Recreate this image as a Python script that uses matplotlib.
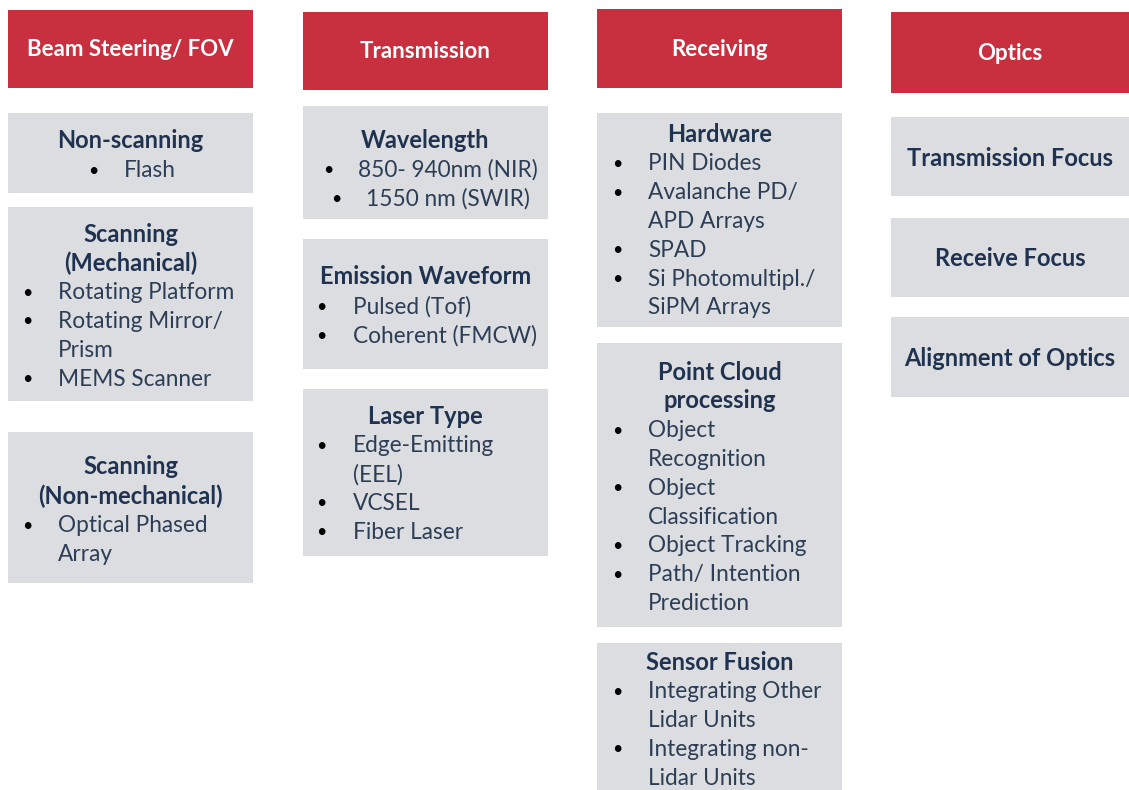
import matplotlib
matplotlib.use("Agg")
import matplotlib.pyplot as plt
from matplotlib.patches import Rectangle

plt.rcParams['font.family'] = ['Lato', 'DejaVu Sans']

RED = "#c8303f"
GRAY = "#dcdde0"
NAVY = "#1f3350"
ITEM = "#2c3e56"

# column headers
headers = ["Beam Steering/ FOV", "Transmission", "Receiving", "Optics"]

# each box: title lines, bullet items (an item may wrap onto several lines)
beam_boxes = [
    (["Non-scanning"], [["Flash"]]),
    (["Scanning", "(Mechanical)"], [["Rotating Platform"], ["Rotating Mirror/", "Prism"], ["MEMS Scanner"]]),
    (["Scanning", "(Non-mechanical)"], [["Optical Phased", "Array"]]),
]
transmission_boxes = [
    (["Wavelength"], [["850- 940nm (NIR)"], ["1550 nm (SWIR)"]]),
    (["Emission Waveform"], [["Pulsed (Tof)"], ["Coherent (FMCW)"]]),
    (["Laser Type"], [["Edge-Emitting", "(EEL)"], ["VCSEL"], ["Fiber Laser"]]),
]
receiving_boxes = [
    (["Hardware"], [["PIN Diodes"], ["Avalanche PD/", "APD Arrays"], ["SPAD"], ["Si Photomultipl./", "SiPM Arrays"]]),
    (["Point Cloud", "processing"], [["Object", "Recognition"], ["Object", "Classification"],
                                     ["Object Tracking"], ["Path/ Intention", "Prediction"]]),
    (["Sensor Fusion"], [["Integrating Other", "Lidar Units"], ["Integrating non-", "Lidar Units"]]),
]
optics_boxes = [
    (["Transmission Focus"], []),
    (["Receive Focus"], []),
    (["Alignment of Optics"], []),
]
columns = [beam_boxes, transmission_boxes, receiving_boxes, optics_boxes]

# layout in pixels (x0, x1), header (y0, y1), box (y0, y1, title_y, bullet_x, text_x)
col_x = [(8, 253), (303, 548), (597, 842), (891, 1129)]
header_y = [(10, 88), (12, 90), (9, 88), (12, 93)]
box_layout = [
    [(113, 193, 141, 93, 124), (207, 401, 234, 27, 58), (432, 583, 467, 27, 58)],
    [(106, 219, 140, 328, 358), (239, 369, 277, 321, 353), (389, 556, 416, 321, 353)],
    [(113, 327, 134, 617, 648), (343, 627, 372, 617, 648), (643, 800, 662, 617, 648)],
    [(117, 196, 158, 0, 0), (218, 297, 259, 0, 0), (317, 397, 359, 0, 0)],
]
# extra indent of single items (box column, box index, item index) -> px
indent = {(1, 0, 1): 8.5}
LINE = 28.8

fig = plt.figure(figsize=(11.29, 7.9), dpi=100)
ax = fig.add_axes([0, 0, 1, 1])
ax.set_xlim(0, 1129)
ax.set_ylim(790, 0)
ax.set_axis_off()

for c, (title, boxes) in enumerate(zip(headers, columns)):
    x0, x1 = col_x[c]
    cx = (x0 + x1) / 2
    hy0, hy1 = header_y[c]
    ax.add_patch(Rectangle((x0, hy0), x1 - x0, hy1 - hy0, facecolor=RED, edgecolor="none"))
    ax.text(cx, (hy0 + hy1) / 2 + 1, title, color="white", fontsize=16, fontweight="bold",
            ha="center", va="center")
    for b, ((titles, items), (y0, y1, ty, bx, tx)) in enumerate(zip(boxes, box_layout[c])):
        ax.add_patch(Rectangle((x0, y0), x1 - x0, y1 - y0, facecolor=GRAY, edgecolor="none"))
        y = ty
        for t in titles:
            ax.text(cx, y, t, color=NAVY, fontsize=17, fontweight="bold", ha="center", va="center")
            y += LINE
        for i, item in enumerate(items):
            dx = indent.get((c, b, i), 0)
            ax.text(bx + dx, y + 1, "\u2022", color="black", fontsize=13, ha="center", va="center")
            for line in item:
                ax.text(tx + dx, y + 1, line, color=ITEM, fontsize=16.3, ha="left", va="center")
                y += LINE

fig.savefig("out.png", dpi=100, facecolor="white")
